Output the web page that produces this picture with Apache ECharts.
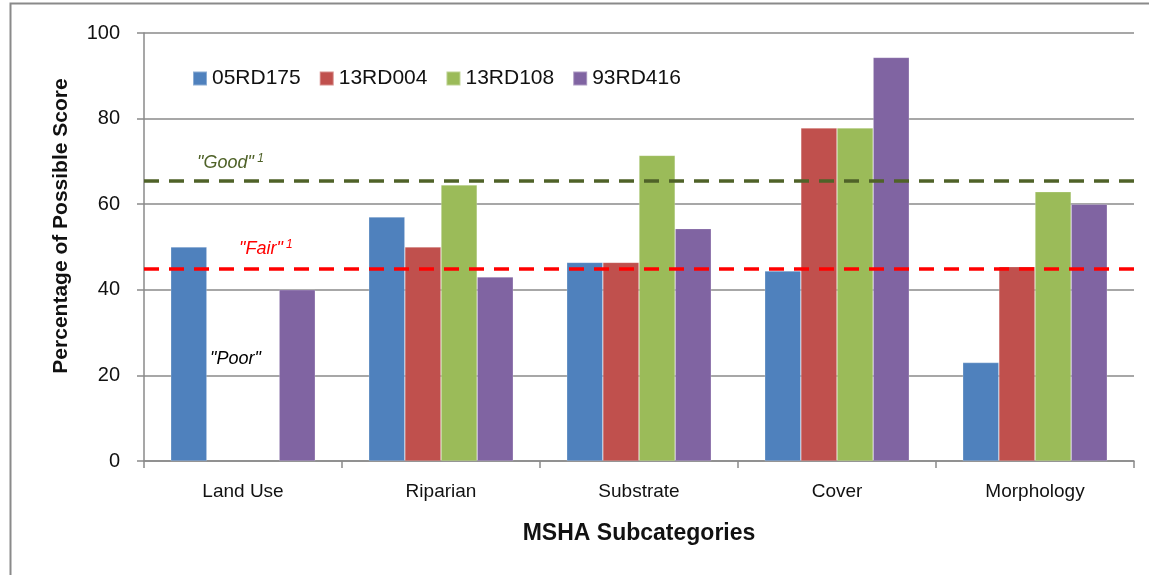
<!DOCTYPE html>
<html>
<head>
<meta charset="utf-8">
<script src="https://cdn.jsdelivr.net/npm/echarts@6/dist/echarts.min.js"></script>
<style>
html,body{margin:0;padding:0;background:#fff;}
#chart{width:1149px;height:575px;}
</style>
</head>
<body>
<div id="chart"></div>
<script>
const categories = ['Land Use', 'Riparian', 'Substrate', 'Cover', 'Morphology'];
const seriesNames = ['05RD175', '13RD004', '13RD108', '93RD416'];
const s05RD175 = [50, 57, 46.4, 44.4, 23];
const s13RD004 = [null, 50, 46.4, 77.8, 45.4];
const s13RD108 = [null, 64.5, 71.4, 77.8, 62.9];
const s93RD416 = [40, 43, 54.3, 94.3, 60];
const goodThreshold = 65.4;
const fairThreshold = 45;
const yTicks = [0, 20, 40, 60, 80, 100];

const colors = ['#4F81BD', '#C0504D', '#9BBB59', '#8064A2'];
const FONT = 'Liberation Sans';
const chart = echarts.init(document.getElementById('chart'));
const allData = [s05RD175, s13RD004, s13RD108, s93RD416];

const series = allData.map((d, i) => ({
  name: seriesNames[i],
  type: 'bar',
  data: d,
  barGap: '0%',
  barCategoryGap: '27%',
  itemStyle: { color: colors[i], borderColor: 'rgba(255,255,255,0.35)', borderWidth: 0.6 },
  emphasis: { disabled: true }
}));
series[0].markLine = {
  silent: true,
  symbol: ['none', 'none'],
  label: { show: false },
  data: [
    { yAxis: goodThreshold, lineStyle: { color: '#4F6228', type: [15, 10], width: 3.5 } },
    { yAxis: fairThreshold, lineStyle: { color: '#FF0000', type: [15, 10], width: 3.5 } }
  ]
};

chart.setOption({
  animation: false,
  backgroundColor: '#fff',
  color: colors,
  grid: { left: 144, right: 15, top: 33, bottom: 114 },
  legend: {
    data: seriesNames,
    left: 192,
    top: 68,
    padding: 0,
    itemWidth: 14,
    itemHeight: 14,
    itemGap: 18,
    icon: 'rect',
    textStyle: { fontFamily: FONT, fontSize: 21, color: '#111' }
  },
  xAxis: {
    type: 'category',
    data: categories,
    name: 'MSHA Subcategories',
    nameLocation: 'middle',
    nameGap: 61,
    nameTextStyle: { fontFamily: FONT, fontSize: 23, fontWeight: 'bold', color: '#111' },
    axisLine: { lineStyle: { color: '#8a8a8a', width: 1.5 } },
    axisTick: { show: true, length: 7, lineStyle: { color: '#8a8a8a', width: 1.5 } },
    axisLabel: { fontFamily: FONT, fontSize: 19, color: '#111', margin: 21 }
  },
  yAxis: {
    type: 'value',
    min: 0,
    max: 100,
    interval: 20,
    axisLine: { show: true, lineStyle: { color: '#8a8a8a', width: 1.5 } },
    axisTick: { show: true, length: 7, lineStyle: { color: '#8a8a8a', width: 1.5 } },
    axisLabel: { fontFamily: FONT, fontSize: 20, color: '#111', margin: 24,
      formatter: v => yTicks.includes(v) ? String(v) : '' },
    splitLine: { lineStyle: { color: '#8a8a8a', width: 1.5 } }
  },
  graphic: [
    { type: 'rect', silent: true, shape: { x: 10.5, y: 3.5, width: 1300, height: 800 },
      style: { fill: 'none', stroke: '#8a8a8a', lineWidth: 2 }, z: 100 },
    { type: 'text', silent: true, z: 100, x: 61, y: 226, rotation: Math.PI / 2,
      style: { text: 'Percentage of Possible Score', fontFamily: FONT, fontSize: 21, fontWeight: 'bold',
        fill: '#111', align: 'center', verticalAlign: 'middle' } },
    { type: 'text', left: 197, top: 153, silent: true, z: 100,
      style: { text: '{a|"Good"} {b|1}', rich: {
        a: { fontFamily: FONT, fontStyle: 'italic', fontSize: 18, fill: '#4F6228' },
        b: { fontFamily: FONT, fontStyle: 'italic', fontSize: 12, fill: '#4F6228', padding: [0, 0, 8, 0] } } } },
    { type: 'text', left: 239, top: 239, silent: true, z: 100,
      style: { text: '{a|"Fair"} {b|1}', rich: {
        a: { fontFamily: FONT, fontStyle: 'italic', fontSize: 18, fill: '#FF0000' },
        b: { fontFamily: FONT, fontStyle: 'italic', fontSize: 12, fill: '#FF0000', padding: [0, 0, 8, 0] } } } },
    { type: 'text', left: 210, top: 350, silent: true, z: 100,
      style: { text: '"Poor"', fontFamily: FONT, fontStyle: 'italic', fontSize: 18, fill: '#000' } }
  ],
  series: series
});
</script>
</body>
</html>
